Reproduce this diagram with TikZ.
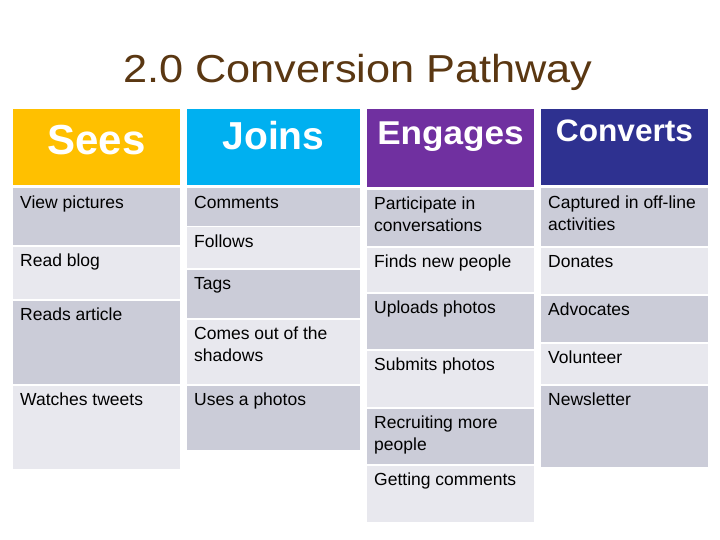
\documentclass[tikz,border=0pt]{standalone}
\usepackage{fontspec}
\setmainfont{Liberation Sans}
\definecolor{titlebrown}{HTML}{5A3712}
\definecolor{seescol}{HTML}{FFC000}
\definecolor{joinscol}{HTML}{00B0F0}
\definecolor{engcol}{HTML}{7030A0}
\definecolor{convcol}{HTML}{2E3190}
\definecolor{darkcell}{HTML}{CBCCD8}
\definecolor{lightcell}{HTML}{E8E8EE}
\tikzset{
  celltext/.style={anchor=base west, inner sep=0pt, text=black,
    font=\fontsize{17.5}{22}\selectfont},
  headtext/.style={anchor=base, inner sep=0pt, text=white},
}
\newcommand\pcell[7]{%
  \fill[#6] (#2,#3) rectangle (#4,#5);
  \node[celltext] (#1) at (#2+7,#3+20) {\parbox[t]{160pt}{\raggedright #7}};
}
\newcommand\phead[9]{%
  \fill[#6] (#2,#3) rectangle (#4,#5);
  \node[headtext, font=\fontsize{#8}{#8}\selectfont\bfseries] (#1) at ({(#2+#4)/2},#7) {\scalebox{#9}[1]{#1}};
}
\begin{document}
\begin{tikzpicture}[x=1pt,y=-1pt]
\useasboundingbox (0,0) rectangle (720,540);
\fill[white] (0,0) rectangle (720,540);
\node[anchor=base, inner sep=0pt, text=titlebrown, font=\fontsize{39}{39}\selectfont] (title) at (358,83) {\scalebox{1.11}[1]{2.0 Conversion Pathway}};

% headers
\phead{Sees}{13}{109}{180}{185}{seescol}{155}{42}{1}
\phead{Joins}{187}{109}{360}{185}{joinscol}{150}{39}{1}
\phead{Engages}{367}{109}{534}{187}{engcol}{145}{33}{1.065}
\phead{Converts}{541}{109}{708}{185}{convcol}{142}{31}{1.02}

% column 1
\pcell{c1a}{13}{188}{180}{245}{darkcell}{View pictures}
\pcell{c1b}{13}{246.5}{180}{299}{lightcell}{Read blog}
\pcell{c1c}{13}{300.5}{180}{384}{darkcell}{Reads article}
\pcell{c1d}{13}{385.5}{180}{469}{lightcell}{Watches tweets}

% column 2
\pcell{c2a}{187}{188}{360}{226}{darkcell}{Comments}
\pcell{c2b}{187}{227.5}{360}{268}{lightcell}{Follows}
\pcell{c2c}{187}{269.5}{360}{318}{darkcell}{Tags}
\pcell{c2d}{187}{319.5}{360}{384}{lightcell}{Comes out of the\\shadows}
\pcell{c2e}{187}{385.5}{360}{450}{darkcell}{Uses a photos}

% column 3
\pcell{c3a}{367}{190}{534}{246}{darkcell}{Participate in\\conversations}
\pcell{c3b}{367}{247.5}{534}{292}{lightcell}{Finds new people}
\pcell{c3c}{367}{293.5}{534}{349}{darkcell}{Uploads photos}
\pcell{c3d}{367}{350.5}{534}{407}{lightcell}{Submits photos}
\pcell{c3e}{367}{408.5}{534}{464}{darkcell}{Recruiting more\\people}
\pcell{c3f}{367}{465.5}{534}{522}{lightcell}{Getting comments}

% column 4
\pcell{c4a}{541}{188}{708}{246}{darkcell}{Captured in off-line\\activities}
\pcell{c4b}{541}{247.5}{708}{294}{lightcell}{Donates}
\pcell{c4c}{541}{295.5}{708}{342}{darkcell}{Advocates}
\pcell{c4d}{541}{343.5}{708}{384}{lightcell}{Volunteer}
\pcell{c4e}{541}{385.5}{708}{467}{darkcell}{Newsletter}
\end{tikzpicture}
\end{document}
